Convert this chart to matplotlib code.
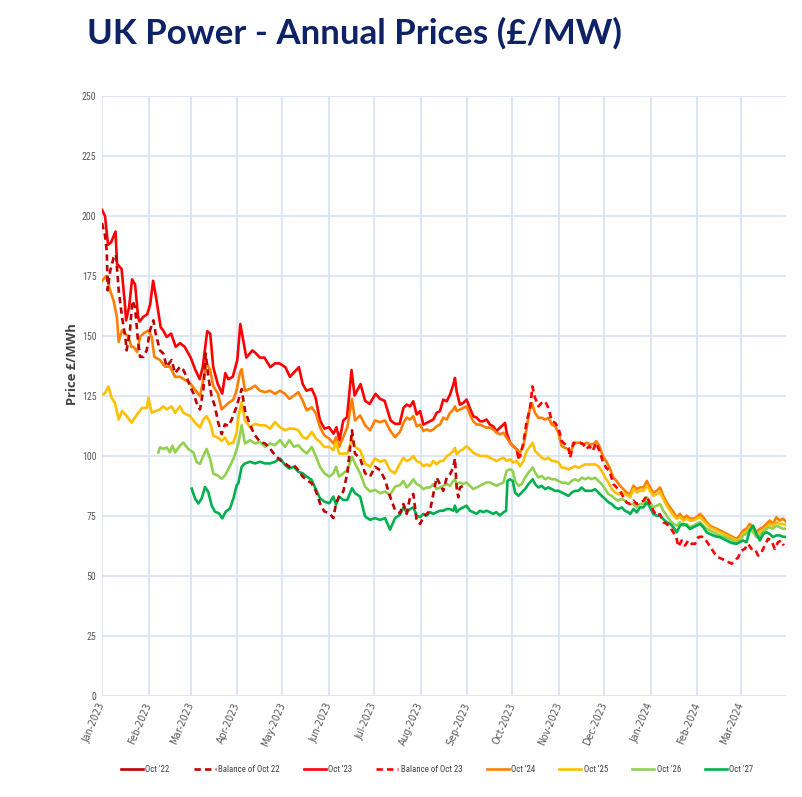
import matplotlib
matplotlib.use("Agg")
import matplotlib.pyplot as plt
import matplotlib.dates as mdates
from matplotlib import font_manager as fm
import numpy as np
import pandas as pd

# ---------------- data (day offsets from 2023-01-01, price £/MWh) ----------------
START = "2023-01-01"
END = "2024-03-31"

TITLE = "UK Power - Annual Prices (£/MW)"
Y_LABEL = "Price £/MWh"
Y_TICKS = [0, 25, 50, 75, 100, 125, 150, 175, 200, 225, 250]
SERIES_NAMES = ["Oct '22", "Balance of Oct 22", "Oct '23", "Balance of Oct 23",
                "Oct '24", "Oct '25", "Oct '26", "Oct '27"]

DAYS_JUL_SEP = [200.5, 202.7, 204.9, 207.1, 209.3, 211.6, 213.8, 216, 218.2, 220.4,
                222.6, 224.8, 227, 229.3, 231.5, 233.7, 234.8, 235.9, 238.1, 240.3,
                242.5, 244.7, 246.9, 249.2, 251.4, 253.6, 255.8, 258, 260.2, 262.4, 264.6]
DAYS_DEC_MAR = [353.5, 355.7, 357.9, 360.2, 362.4, 364.6, 366.8, 369, 371.2, 373.4,
                375.6, 377.9, 380.1, 382.3, 384.5, 386.7, 388.9, 391.1, 393.3, 395.6,
                397.8, 400, 402.2, 404.4, 406.6, 408.8, 411, 413.2, 415.5, 417.7,
                419.9, 422.1, 424.3, 426.5, 428.7, 430.9, 433.1, 435.4, 437.6, 439.8,
                442, 444.2, 446.4, 448.6, 450.8, 453, 455.3]
DAYS_APR_JUL = [90.7, 92.9, 95.1, 98.5, 101.8, 105.1, 108.5, 111.8, 115.1, 118.4,
                121.8, 124.6, 127.7, 130.6, 133.5, 136.2, 139.5, 142.4, 145, 147.9,
                151.2, 153.9, 155.7, 157.7, 160.5, 163.2, 166.3, 168.3, 171.7, 175,
                178.3, 181.6, 185, 188.3, 191.6, 194.9, 198.2]
DAYS_OCT_DEC = [267, 269.2, 271.4, 273.6, 275.9, 278.1, 280.3, 282.5, 284.8, 286.5,
                288.1, 290.3, 292.5, 294.7, 297, 299.2, 301.4, 303.6, 305.8, 308,
                310.3, 312.5, 314.7, 316.9, 319.1, 321.4, 323.6, 325.8, 328, 330.2,
                332.4, 334.7, 336.9, 339.1, 341.3, 343.5, 345.7, 347.9, 350.2, 351.3]

oct22_days = []
oct22_vals = []

bal22_days = [0, 2, 3.2, 3.8, 5.4, 7.7, 9.3, 11.1, 13.3, 15.5,
              16.4, 18.6, 20.2, 22, 23.7, 25.3, 27.5, 29.7, 31.9, 34.2,
              35.7, 38.6, 40.8, 43, 46.3, 48.6, 51.9, 54.1, 56.3, 58.6,
              60.8, 63, 65.2, 67.4, 69, 70.7, 72.9, 75.1, 77.3, 79.6,
              81.8, 84.1, 86.3, 89.6,
              92.9, 95.1, 98.5, 101.8, 105.1, 108.5, 111.8, 115.1, 118.4, 121.8,
              124.6, 127.7, 130.6, 133.5, 136.2, 139.5, 142.4, 145, 147.9, 151.2,
              153.9, 155.7, 157.7, 160.5, 163.2, 166.3, 168.3, 171.7, 175, 178.3,
              181.6, 185, 188.3, 191.6, 194.9, 198.2,
              200.5, 202.7, 204.9, 207.1, 209.3, 211.6, 213.8, 216, 218.2, 220.4,
              222.6, 224.8, 227, 229.3, 231.5, 233.7, 234.8, 235.9, 237, 238.1,
              240.3, 242]
bal22_vals = [197, 192, 185, 169, 177, 182.6, 184, 169, 158, 149.6,
              144, 152.3, 164.7, 162, 149.6, 141.3, 141.3, 144, 152.3, 156.5,
              151, 144, 142.7, 137.2, 140, 134.5, 137.2, 135.9, 133, 129,
              126.2, 122, 119.4, 127.6, 142.7, 133, 124.9, 120.7, 113.9, 109.1,
              113.2, 112.5, 115.2, 120.7,
              127.9, 119, 112.8, 108.6, 105.9, 105.2, 103.1, 100.3, 98.3, 96.9,
              95.5, 96.2, 94.1, 91.4, 90, 88.6, 85.2, 80.3, 76.9, 76.2,
              74.1, 80.3, 83.1, 85.2, 92.8, 110.7, 101, 99, 92.8, 91.4,
              95.5, 94.1, 90, 83.1, 77.6, 76.2,
              80, 75.9, 82.8, 84.2, 73.1, 71.7, 74.5, 75.9, 77.2, 84.2,
              91, 88.3, 85.5, 91, 92.4, 95.2, 99, 86.9, 82.8, 86.9,
              87.6, 88.3]

oct23_days = [0, 2, 4, 6, 9, 10, 13, 15, 16, 18,
              20, 22, 24, 25, 27.5, 30, 32, 34, 36, 39,
              41, 43, 46, 49, 52, 55, 59, 62, 65, 67,
              70, 72, 74, 77, 80, 82, 84, 87, 90, 92,
              94, 96, 100, 102, 105, 108, 112, 115, 118, 122,
              125, 128,
              131, 133.5, 136, 139.5, 142, 145, 148, 151, 154, 156,
              158, 160.5, 163, 166, 168, 172, 175, 178, 182, 185,
              188, 192, 195, 198] + DAYS_JUL_SEP + [267, 268.1, 269.2, 271.4, 273.6, 275.9, 277, 278.1]
oct23_vals = [202.5, 200, 188, 189, 193.5, 180, 178, 165, 156.5, 162,
              173.6, 171.5, 158, 156, 158, 159, 163, 173, 166, 153.7,
              152, 149.6, 151, 145.5, 147, 145.5, 141, 136, 132, 137,
              152, 151, 137, 130, 126, 134.5, 132, 133, 140, 155,
              148, 141, 144, 143, 141, 141, 137, 138.6, 138.6, 137,
              133, 135,
              137, 130, 127.2, 128, 124.5, 114.8, 111.4, 112, 109.3, 112,
              106.5, 114.8, 116.2, 135.8, 125.2, 130, 123, 121.7, 125.9, 123.8,
              123, 114.8, 113.4, 113.4,
              120, 121.4, 120.7, 122.8, 117.3, 118.7, 113.1, 113.8, 114.5, 115.2,
              118, 118.7, 123.5, 122.8, 125.6, 129.7, 132.5, 126.9, 121.4, 122.1,
              123.5, 120, 116.6, 116, 114.5, 114.5, 115.2, 113.1, 112.4, 110.4,
              111.7,
              113.1, 113.8, 109.7, 105.5, 104, 102.8, 99.3, 100]

bal23_days = [276, 278.1, 280.3, 282.5, 284.8, 286.3, 288.1, 290.3, 292.5, 294.7,
              297, 299.2, 301.4, 303.6, 305.8, 308, 310.3, 311.4, 313.6, 315.8,
              318, 320.2, 322, 324.2, 326.4, 328.7, 330.9, 333.1, 335.3, 337.6,
              340.2, 342.3, 344.6, 346.8, 349, 351.3,
              353.5, 355.7, 357.9, 360.2, 362.4, 364.6, 366.8, 369, 371.2, 373.4,
              375.6, 377.9, 380.1, 382.3, 383.4, 385.6, 387.8, 390, 392.2, 394.5,
              396.7, 398.9, 401.1, 403.3, 405.5, 407.7, 409.9, 412.1, 414.4, 416.6,
              418.8, 421, 423.2, 425.4, 427.6, 429.8, 432, 434.2, 436.5, 438.7,
              440.9, 443.1, 445.3, 447.5, 449.7, 451.9, 453.5]
bal23_vals = [101.2, 100, 105.5, 114.5, 120, 129, 124.2, 120.7, 122.1, 122.8,
              120, 114.5, 113.8, 111.8, 106.2, 104.9, 103.4, 99.3, 105.5, 105.5,
              105.5, 104.9, 102.8, 104.1, 102.1, 105.5, 102.1, 97.9, 95.1, 93.8,
              88.3, 86.9, 85.5, 82.8, 80.6, 80,
              81.4, 80, 80.6, 81.4, 83.4, 80, 77.2, 75.1, 75.8, 72.4,
              71.7, 70.3, 68.2, 65.4, 62.2, 64.8, 62.7, 64.8, 63.4, 63.4,
              66.2, 66.4, 65.5, 63.4, 61.3, 59.2, 57.8, 57.2, 56.5, 55.8,
              55.1, 56.5, 57.8, 60.6, 61.3, 63.4, 61.3, 61.3, 58.5, 59.9,
              62.7, 65.5, 64.8, 61.3, 64.1, 64.8, 62.7]

oct24_days = [0, 2.9, 5.4, 7.7, 9.9, 11.1, 13.3, 15.5, 17.7, 19.5,
              21, 23.3, 25.3, 27.5, 30.8, 33.1, 34.8, 38.6, 41.9, 45.2,
              48.6, 51.9, 55.2, 58.6, 61.9, 65.2, 67.4, 69.6, 71.9, 74.1,
              77, 79.6, 81.8, 84.1, 87.4, 89.6,
              91.8, 92.9, 95.1, 98.5, 101.8, 105.1, 108.5, 111.8, 115.1, 118.4,
              121.8, 124.6, 127.7, 130.6, 133.5, 136.2, 139.5, 142.4, 145, 147.9,
              151.2, 153.9, 155.7, 157.7, 160.5, 163.2, 166.3, 168.3, 171.7, 175,
              178.3, 181.6, 185, 188.3, 191.6, 194.9, 198.2] + DAYS_JUL_SEP + [
              267, 269.2, 271.4, 273.6, 275.9, 278.1, 280.3, 282.5, 284.8, 285.9,
              288.1, 290.3, 292.5, 294.7, 297, 299.2, 301.4, 303.6, 305.8, 308,
              310.3, 311.8, 313.6, 315.8, 318, 320.2, 322.5, 324.6, 326.9, 328.7,
              330.9, 333.1, 335.3, 337.6, 340.2, 342.3, 344.6, 346.8, 349, 351.3] + DAYS_DEC_MAR
oct24_vals = [173, 175, 169, 164.7, 158, 147.5, 152.3, 151, 149.6, 145.5,
              145.5, 143.4, 149.6, 151, 152.3, 149.6, 141.3, 140, 137.2, 137.2,
              133, 133, 131.7, 130.3, 127.6, 124.9, 131.7, 138.6, 135.9, 129,
              126.2, 119.4, 120.7, 122.1, 123.5, 127.6,
              134.8, 136.2, 127.2, 128, 129.3, 127.2, 126.6, 127.2, 125.9, 127.2,
              125.9, 123.8, 125.2, 126.6, 123.1, 119, 120.3, 117.6, 112, 108.6,
              107.2, 105.2, 107.9, 103.8, 107.9, 112, 123.8, 114.8, 116.9, 112.8,
              110.7, 114.8, 114.1, 114.8, 110.7, 107.9, 110,
              113.8, 116, 115.2, 116.6, 112.4, 113.1, 110.4, 111.1, 110.4, 111.1,
              112.4, 113.1, 116, 115.2, 118, 119.3, 120.7, 118.7, 119.3, 120,
              120.7, 117.3, 114.5, 113.1, 113.1, 112.4, 111.8, 111.8, 111.1, 109.7,
              109,
              109.7, 107.6, 105.5, 104.1, 102.8, 101.4, 104.1, 111.8, 120.7, 122.1,
              117.9, 115.9, 115.9, 115.2, 115.9, 113.1, 112.4, 109.7, 104.1, 103.4,
              102.8, 101.4, 104.9, 105.5, 105.5, 104.9, 105.5, 104.9, 104.9, 106.2,
              104.1, 100, 97.9, 95.2, 91, 89.6, 87.6, 86.2, 84.8, 84.1,
              87.6, 86.2, 86.9, 86.9, 89.6, 86.9, 84.8, 85.5, 86.9, 83.4,
              80.7, 78.6, 76.6, 74.5, 75.9, 73.9, 75.2, 73.9, 73.9, 74.5,
              75.9, 74.5, 72.4, 71, 70.3, 69.7, 69, 68.3, 67.6, 66.9,
              66.2, 65.5, 66.9, 69, 69.7, 71.7, 70.3, 68.3, 69.7, 70.3,
              71.7, 73.1, 71.7, 74.5, 73.1, 73.9, 72.4]

oct25_days = [0, 2, 4.3, 6.4, 8.6, 11.1, 13.3, 16.4, 19.7, 23.3,
              26.6, 29.9, 30.8, 33.1, 35.3, 38.6, 40.8, 43, 46.3, 48.6,
              51.9, 54.1, 58.6, 61.9, 65.2, 67.4, 69.6, 71.9, 74.1, 77,
              79.6, 81.8, 84.1, 87.4, 89.6] + DAYS_APR_JUL + DAYS_JUL_SEP + DAYS_OCT_DEC + DAYS_DEC_MAR
oct25_vals = [125.5, 126.2, 129, 124.2, 122.1, 115.2, 118.7, 116.6, 113.9, 117.3,
              120, 120, 124.2, 118, 118.7, 119.4, 120.7, 119.4, 120.7, 118,
              120.7, 118, 116.6, 113.9, 111.8, 115.2, 116.6, 113.9, 108.4, 107.7,
              106.3, 107.7, 105, 105.6, 109.8,
              116.2, 122.4, 114.8, 112, 113.4, 112.8, 112.8, 111.4, 114.1, 112,
              110.7, 111.4, 111.4, 110.7, 107.9, 107.2, 110, 107.2, 105.9, 103.8,
              103.8, 102.4, 105.9, 101, 101, 101, 107.2, 103.8, 102.4, 96.9,
              95.5, 99, 97.6, 98.3, 94.1, 92.8, 96.9,
              99.3, 97.9, 98.6, 100, 97.9, 97.2, 95.8, 96.5, 95.8, 97.9,
              96.5, 97.9, 97.9, 100, 100.7, 102.1, 103.4, 100.7, 102.1, 102.8,
              104.1, 102.8, 101.4, 100.7, 100, 100, 100, 99.3, 98.6, 97.9,
              98.6,
              99.3, 97.9, 98.6, 97.3, 97.9, 95.8, 97.9, 102.1, 104.1, 105.5,
              102.1, 100.7, 99.3, 98.6, 99.3, 97.9, 97.9, 97.3, 95.1, 95.1,
              94.4, 95.1, 95.8, 95.1, 95.8, 96.5, 96.5, 96.5, 96.5, 95.8,
              93.8, 91, 88.9, 86.2, 84.8, 84.1, 84.8, 84.1, 83.4, 82.8,
              86.2, 84.8, 85.5, 85.5, 87.6, 85.5, 83.4, 84.1, 84.8, 82.1,
              79.3, 77.2, 75.2, 73.9, 74.5, 73.1, 73.9, 73.1, 73.1, 73.9,
              74.5, 73.1, 71.7, 70.3, 69.7, 69, 68.3, 67.6, 66.9, 66.2,
              65.5, 64.8, 65.5, 67.6, 68.3, 70.3, 69.7, 67.6, 68.3, 69,
              70.3, 71.7, 71, 72.4, 71.7, 71.7, 71]

oct26_days = [37.5, 38.6, 40.8, 43, 45.2, 46.8, 48.6, 51.9, 54.1, 57.4,
              60.8, 63, 65.2, 67.4, 69.6, 71.9, 74.1, 77, 79.6, 81.8,
              84.1, 87.4, 89.6] + DAYS_APR_JUL + DAYS_JUL_SEP + [
              267, 269.2, 271.4, 273.2, 274.8, 277, 279.2, 281.4, 283.7, 286.5] + DAYS_OCT_DEC[10:] + DAYS_DEC_MAR
oct26_vals = [101.5, 103.6, 102.9, 103.6, 101.5, 104.3, 101.5, 104.3, 105.6, 102.9,
              101.5, 97.4, 96.7, 100.1, 102.9, 98.8, 92.6, 91.9, 90.5, 91.9,
              94.6, 98.8, 102.9,
              105.2, 112.8, 105.2, 106.6, 105.2, 105.9, 103.8, 105.2, 104.5, 106.6,
              103.8, 106.6, 103.8, 104.5, 102.4, 101, 103.8, 99.7, 95.5, 92.8,
              91.4, 92.8, 95.5, 91.4, 92.8, 94.1, 99.7, 96.9, 92.8, 87.2,
              85.2, 85.9, 84.5, 85.2, 83.8, 87.2, 87.9,
              89.6, 86.9, 88.3, 90.3, 88.3, 87.6, 86.2, 86.9, 86.9, 88.3,
              86.2, 86.9, 87.6, 88.3, 87.6, 89.6, 90.3, 88.3, 89, 88.3,
              89, 87.6, 86.2, 86.9, 87.6, 88.3, 89, 89, 88.3, 87.6,
              88.3,
              88.9, 93.8, 94.5, 93.8, 89.6, 87.6, 88.3, 91, 93.1, 95.2,
              93.1, 91, 91.7, 90.3, 91, 90.3, 90.3, 89.6, 88.9, 88.9,
              88.3, 89.6, 90.3, 89.6, 91, 90.3, 91, 90.3, 91, 89.6,
              88.3, 86.2, 84.1, 83.4, 82.1, 81.4, 82.1, 81.4, 80, 80,
              80, 78.6, 80, 80, 82.8, 80.7, 78.6, 79.3, 80, 77.2,
              75.2, 73.1, 71.7, 71, 72.4, 71, 71.7, 70.3, 71, 71.7,
              72.4, 71, 69.7, 69, 68.3, 67.6, 66.9, 66.5, 65.9, 65.4,
              64.8, 64.1, 64.8, 66.9, 67.6, 69.7, 68.3, 66.2, 66.9, 68.3,
              69.7, 70.3, 69.7, 71, 70.3, 69.7, 69.7]

oct27_days = [59.7, 61.9, 64.1, 66.3, 68.5, 70.7, 72.9, 75.1, 77.8, 80,
              82.3, 85.2, 87.4, 89.6] + DAYS_APR_JUL + DAYS_JUL_SEP + [
              267, 268.8, 269.7, 271.4, 273.2, 274.8, 277, 279.2, 281.4, 283.7,
              286.5, 288.1, 290.3, 292.5, 294.7, 297, 299.2, 301.4, 303.6, 305.8,
              308, 310.3, 312.5, 314.7, 316.9, 319.1, 321.4, 323.6, 325.8, 328,
              330.2, 332.4, 334.7, 336.9, 339.1, 341.3, 343.5, 345.7, 347.9, 350.2,
              351.3] + DAYS_DEC_MAR
oct27_vals = [86.4, 82.3, 80.2, 82.3, 87.1, 85, 79.5, 76.8, 76.1, 74,
              76.8, 78.2, 82.3, 87.8,
              88.6, 95.5, 96.9, 97.6, 96.9, 97.6, 96.9, 96.9, 97.6, 99,
              96.2, 94.8, 95.5, 93.4, 92.8, 91.4, 90, 85.9, 82.4, 81,
              80.3, 83.1, 79.7, 83.1, 81.7, 81.7, 86.6, 84.5, 83.1, 74.8,
              73.4, 74.1, 73.4, 74.1, 69.3, 74.1, 75.5,
              78.6, 76.6, 77.9, 78.6, 75.2, 74.5, 75.9, 75.2, 76.6, 75.9,
              76.6, 77.2, 77.2, 77.9, 77.9, 77.2, 79.3, 76.6, 77.9, 78.6,
              79.3, 77.2, 76.6, 75.9, 77.2, 76.6, 77.2, 76.6, 75.9, 76.6,
              75.2,
              76.5, 77.2, 89.6, 90.3, 89.6, 84.8, 83.4, 84.8, 86.2, 88.3,
              90.3, 88.3, 86.9, 87.6, 86.2, 86.9, 86.2, 85.5, 85.5, 84.8,
              84.1, 83.4, 84.8, 85.5, 85.5, 86.9, 85.5, 85.5, 85.5, 86.2,
              84.8, 83.4, 82.1, 80.7, 80, 78.6, 77.9, 78.6, 77.2, 76.5,
              75.8,
              77.9, 76.5, 78.6, 78.6, 80.7, 78.6, 75.8, 75.1, 75.1, 73.7,
              72.4, 71.7, 70.3, 68.2, 71, 71.7, 71, 69.6, 70.3, 71,
              71.7, 70.3, 68.2, 67.5, 66.9, 66.4, 66.2, 65.5, 64.8, 64.1,
              63.6, 63.4, 64.1, 64.8, 64.1, 69, 71, 67.5, 64.8, 67.5,
              68.2, 67.5, 66.2, 66.9, 66.9, 66.4, 66.2]

# ---------------- styling ----------------
COLORS = {"Oct '22": "#C00000", "Balance of Oct 22": "#C00000", "Oct '23": "#FF0000",
          "Balance of Oct 23": "#FF0000", "Oct '24": "#FF7F00", "Oct '25": "#FFC000",
          "Oct '26": "#92D050", "Oct '27": "#00B050"}
DASHED = {"Balance of Oct 22", "Balance of Oct 23"}

series = {
    "Oct '22": (oct22_days, oct22_vals),
    "Balance of Oct 22": (bal22_days, bal22_vals),
    "Oct '23": (oct23_days, oct23_vals),
    "Balance of Oct 23": (bal23_days, bal23_vals),
    "Oct '24": (oct24_days, oct24_vals),
    "Oct '25": (oct25_days, oct25_vals),
    "Oct '26": (oct26_days, oct26_vals),
    "Oct '27": (oct27_days, oct27_vals),
}
for k, (d, v) in series.items():
    assert len(d) == len(v), (k, len(d), len(v))

base = pd.Timestamp(START)


def to_dates(days):
    return base + pd.to_timedelta(np.asarray(days, dtype=float), unit="D")


fig = plt.figure(figsize=(8.03, 7.97), dpi=100)
fig.patch.set_facecolor("white")
ax = fig.add_axes([102 / 803, 1 - 696 / 797, 684 / 803, 600 / 797])
renderer = fig.canvas.get_renderer()

LATIN_FAMILIES = {"Liberation Sans Narrow", "Liberation Sans", "DejaVu Sans", "Noto Sans",
                  "Roboto", "Roboto Condensed", "Open Sans", "Open Sans Condensed",
                  "Lato", "Inter", "Noto Sans Display"}


def narrowest_regular():
    sample = "Balance of Oct 22 0123456789"
    best = None
    seen = set()
    for f in fm.fontManager.ttflist:
        if f.name not in LATIN_FAMILIES or f.style != "normal":
            continue
        try:
            wt = int(f.weight)
        except (TypeError, ValueError):
            wt = 400
        if wt < 350 or wt > 450:
            continue
        if f.fname in seen:
            continue
        seen.add(f.fname)
        prop = fm.FontProperties(fname=f.fname, size=10)
        try:
            w, h, d = renderer.get_text_width_height_descent(sample, prop, ismath=False)
        except Exception:
            continue
        if best is None or w < best[0]:
            best = (w, f.fname)
    if best is None:
        return fm.FontProperties(family="DejaVu Sans")
    return fm.FontProperties(fname=best[1])


COND = narrowest_regular()


def fit_size(text, target_px, props, ref=10.0):
    p = props.copy()
    p.set_size(ref)
    w, h, d = renderer.get_text_width_height_descent(text, p, ismath=False)
    return ref * target_px / w


draw_order = ["Oct '22", "Oct '23", "Oct '24", "Oct '25", "Oct '26", "Oct '27",
              "Balance of Oct 22", "Balance of Oct 23"]
handles = {}
for z, name in enumerate(draw_order):
    d, v = series[name]
    ls = (0, (2.4, 1.6)) if name in DASHED else "-"
    (ln,) = ax.plot(to_dates(d), v, color=COLORS[name], lw=1.9, ls=ls,
                    zorder=3 + z, solid_joinstyle="round")
    handles[name] = ln

ax.set_xlim(base, pd.Timestamp(END))
ax.set_ylim(0, 250)
ax.set_yticks(Y_TICKS)
ax.xaxis.set_major_locator(mdates.MonthLocator())
ax.xaxis.set_major_formatter(mdates.DateFormatter("%b-%Y"))
ax.grid(True, color="#D3E0F6", lw=1.1, zorder=0)
ax.set_axisbelow(True)
for s in ax.spines.values():
    s.set_visible(False)
ax.tick_params(axis="both", length=0, colors="#595959")
ax.tick_params(axis="y", pad=4)
ax.tick_params(axis="x", pad=5)

ysize = fit_size("250", 14.5, COND)
xprops = fm.FontProperties(family="DejaVu Sans")
xsize = fit_size("Jan-2023", 42, xprops)
for lab in ax.get_yticklabels():
    lab.set_fontproperties(COND.copy())
    lab.set_fontsize(ysize)
for lab in ax.get_xticklabels():
    lab.set_fontproperties(xprops.copy())
    lab.set_fontsize(xsize)
    lab.set_rotation(67)
    lab.set_ha("right")
    lab.set_va("center")
    lab.set_rotation_mode("anchor")

ylab_props = fm.FontProperties(family="Open Sans", weight="bold")
ylab_size = fit_size(Y_LABEL, 82, ylab_props)
ax.set_ylabel(Y_LABEL, fontproperties=ylab_props, fontsize=ylab_size, color="#404040")
ax.yaxis.set_label_coords(-0.034, 0.553)

leg_size = fit_size("Balance of Oct 22", 61, COND)
px_per_unit = leg_size * 100 / 72.0
leg_props = COND.copy()
leg_props.set_size(leg_size)
leg = ax.legend([handles[n] for n in SERIES_NAMES], SERIES_NAMES, loc="center",
                bbox_to_anchor=(0.49, -0.122), ncol=8, frameon=False,
                prop=leg_props, handlelength=22 / px_per_unit,
                handletextpad=2.5 / px_per_unit, columnspacing=24 / px_per_unit,
                labelcolor="#404040")

title = fig.text(87 / 803, 1 - 44 / 797, TITLE, fontsize=22, fontweight="bold",
                 color="#0E2266", family="Lato", ha="left", va="baseline")
fig.canvas.draw()
w = title.get_window_extent().width
title.set_fontsize(22 * 535 / w)

fig.savefig("out.png", dpi=100, facecolor="white")
